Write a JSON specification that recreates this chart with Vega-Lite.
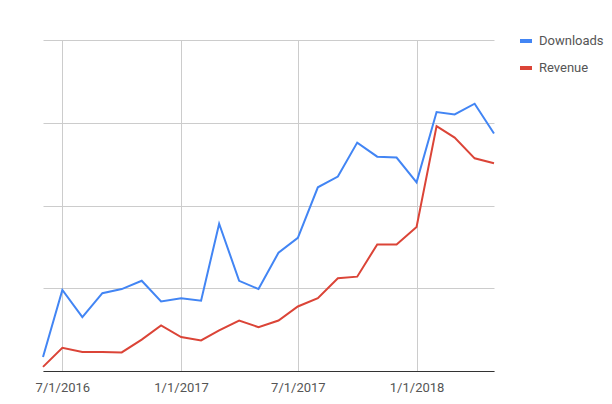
{
  "$schema": "https://vega.github.io/schema/vega-lite/v6.json",
  "width": 451,
  "height": 331,
  "autosize": "none",
  "padding": {"left": 43, "top": 40, "right": 118, "bottom": 33},
  "background": "white",
  "data": {
    "values": [
      {"date": "2016-06-01", "series": "Downloads", "value": 17},
      {"date": "2016-07-01", "series": "Downloads", "value": 98},
      {"date": "2016-08-01", "series": "Downloads", "value": 65},
      {"date": "2016-09-01", "series": "Downloads", "value": 94},
      {"date": "2016-10-01", "series": "Downloads", "value": 99},
      {"date": "2016-11-01", "series": "Downloads", "value": 109},
      {"date": "2016-12-01", "series": "Downloads", "value": 84},
      {"date": "2017-01-01", "series": "Downloads", "value": 88},
      {"date": "2017-02-01", "series": "Downloads", "value": 85},
      {"date": "2017-03-01", "series": "Downloads", "value": 178},
      {"date": "2017-04-01", "series": "Downloads", "value": 109},
      {"date": "2017-05-01", "series": "Downloads", "value": 99},
      {"date": "2017-06-01", "series": "Downloads", "value": 143},
      {"date": "2017-07-01", "series": "Downloads", "value": 161},
      {"date": "2017-08-01", "series": "Downloads", "value": 222},
      {"date": "2017-09-01", "series": "Downloads", "value": 235},
      {"date": "2017-10-01", "series": "Downloads", "value": 276},
      {"date": "2017-11-01", "series": "Downloads", "value": 259},
      {"date": "2017-12-01", "series": "Downloads", "value": 258},
      {"date": "2018-01-01", "series": "Downloads", "value": 228},
      {"date": "2018-02-01", "series": "Downloads", "value": 313},
      {"date": "2018-03-01", "series": "Downloads", "value": 310},
      {"date": "2018-04-01", "series": "Downloads", "value": 323},
      {"date": "2018-05-01", "series": "Downloads", "value": 287},
      {"date": "2016-06-01", "series": "Revenue", "value": 5},
      {"date": "2016-07-01", "series": "Revenue", "value": 28},
      {"date": "2016-08-01", "series": "Revenue", "value": 23},
      {"date": "2016-09-01", "series": "Revenue", "value": 23},
      {"date": "2016-10-01", "series": "Revenue", "value": 22.5},
      {"date": "2016-11-01", "series": "Revenue", "value": 38},
      {"date": "2016-12-01", "series": "Revenue", "value": 55},
      {"date": "2017-01-01", "series": "Revenue", "value": 41},
      {"date": "2017-02-01", "series": "Revenue", "value": 37},
      {"date": "2017-03-01", "series": "Revenue", "value": 49},
      {"date": "2017-04-01", "series": "Revenue", "value": 61},
      {"date": "2017-05-01", "series": "Revenue", "value": 53},
      {"date": "2017-06-01", "series": "Revenue", "value": 61},
      {"date": "2017-07-01", "series": "Revenue", "value": 78},
      {"date": "2017-08-01", "series": "Revenue", "value": 88},
      {"date": "2017-09-01", "series": "Revenue", "value": 112},
      {"date": "2017-10-01", "series": "Revenue", "value": 114},
      {"date": "2017-11-01", "series": "Revenue", "value": 153},
      {"date": "2017-12-01", "series": "Revenue", "value": 153},
      {"date": "2018-01-01", "series": "Revenue", "value": 174},
      {"date": "2018-02-01", "series": "Revenue", "value": 296},
      {"date": "2018-03-01", "series": "Revenue", "value": 282},
      {"date": "2018-04-01", "series": "Revenue", "value": 257},
      {"date": "2018-05-01", "series": "Revenue", "value": 251}
    ]
  },
  "mark": {"type": "line", "strokeWidth": 2, "strokeJoin": "miter"},
  "encoding": {
    "x": {
      "field": "date",
      "type": "temporal",
      "scale": {
        "type": "utc",
        "domain": [
          {"year": 2016, "month": 6, "date": 1, "utc": true},
          {"year": 2018, "month": 5, "date": 1, "utc": true}
        ],
        "nice": false
      },
      "axis": {
        "title": null,
        "values": [
          {"year": 2016, "month": 7, "date": 1, "utc": true},
          {"year": 2017, "month": 1, "date": 1, "utc": true},
          {"year": 2017, "month": 7, "date": 1, "utc": true},
          {"year": 2018, "month": 1, "date": 1, "utc": true}
        ],
        "format": "%-m/%-d/%Y",
        "ticks": false,
        "domainColor": "#333333",
        "gridColor": "#cccccc",
        "labelFont": "Roboto",
        "labelFontSize": 13,
        "labelColor": "#555555",
        "labelPadding": 10
      }
    },
    "y": {
      "field": "value",
      "type": "quantitative",
      "scale": {"domain": [0, 400], "nice": false},
      "axis": {
        "title": null,
        "values": [0, 100, 200, 300, 400],
        "labels": false,
        "ticks": false,
        "domain": false,
        "gridColor": "#cccccc"
      }
    },
    "color": {
      "field": "series",
      "type": "nominal",
      "scale": {"domain": ["Downloads", "Revenue"], "range": ["#4285F4", "#DB4437"]},
      "legend": {
        "title": null,
        "orient": "none",
        "legendX": 475,
        "legendY": -7,
        "padding": 0,
        "symbolType": "stroke",
        "symbolSize": 144,
        "symbolStrokeWidth": 4,
        "labelFont": "Roboto",
        "labelFontSize": 13,
        "labelColor": "#555555",
        "labelOffset": 5,
        "rowPadding": 11
      }
    }
  },
  "config": {"view": {"stroke": null}}
}
